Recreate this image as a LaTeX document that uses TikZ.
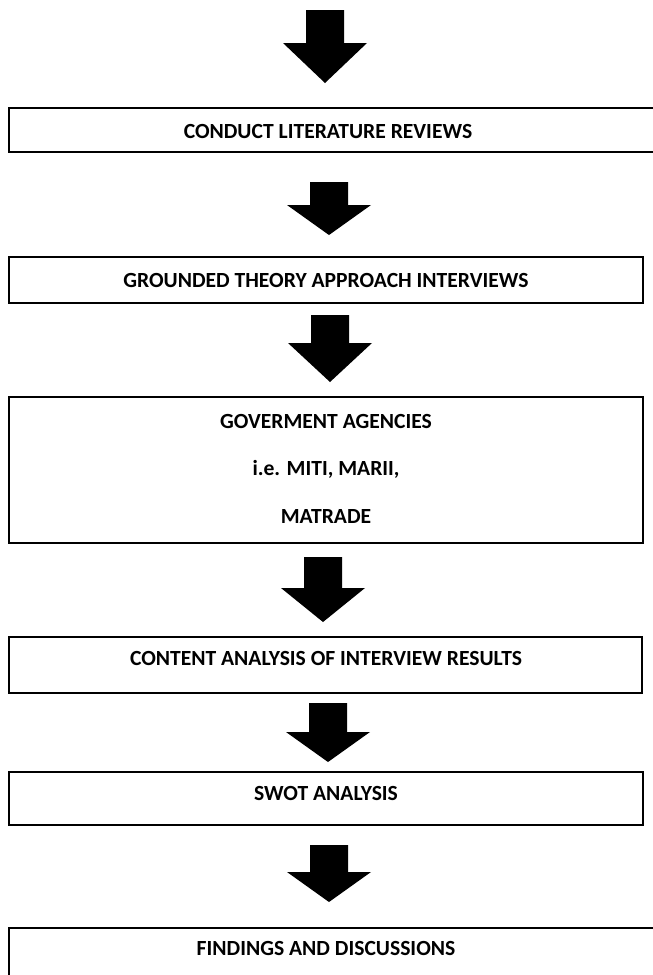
\documentclass[tikz,border=0pt]{standalone}
\usepackage{fontspec}
\setmainfont{Carlito}
\usetikzlibrary{positioning}

\newcommand{\stagefont}{\fontsize{21.6}{48}\selectfont\bfseries}
% block arrow: centre x, shaft top, head top, tip
\newcommand{\blockarrow}[4]{%
  \fill[black] (#1-19,#2) -- (#1+19,#2) -- (#1+19,#3) -- (#1+42,#3)
    -- (#1,#4) -- (#1-42,#3) -- (#1-19,#3) -- cycle;}

\tikzset{
  stagebox/.style={draw=black, line width=2.6pt, rectangle, inner sep=0pt},
  stagetext/.style={font=\stagefont, anchor=base, inner sep=0pt, align=center},
}

\begin{document}
\begin{tikzpicture}[x=1pt, y=-1pt]
  \fill[white] (0,0) rectangle (653,975);
  \useasboundingbox (0,0) rectangle (653,975);

  % boxes
  \node[stagebox, minimum width=653, minimum height=44] (box1) at (335.5,130) {};
  \node[stagebox, minimum width=634, minimum height=46] (box2) at (326,280) {};
  \node[stagebox, minimum width=634, minimum height=146] (box3) at (326,470) {};
  \node[stagebox, minimum width=633, minimum height=56] (box4) at (325.5,665) {};
  \node[stagebox, minimum width=634, minimum height=53] (box5) at (326,798.5) {};
  \node[stagebox, minimum width=653, minimum height=70] (box6) at (335.5,963) {};

  % labels
  \node[stagetext] (lit) at (328,138) {CONDUCT LITERATURE REVIEWS};
  \node[stagetext] (gta) at (326,287) {GROUNDED THEORY APPROACH INTERVIEWS};
  \node[stagetext] (gov) at (326,428) {GOVERMENT AGENCIES};
  \node[stagetext] (miti) at (326,475) {i.e. MITI, MARII,};
  \node[stagetext] (matrade) at (326,523) {MATRADE};
  \node[stagetext] (content) at (326,665) {CONTENT ANALYSIS OF INTERVIEW RESULTS};
  \node[stagetext] (swot) at (326,800) {SWOT ANALYSIS};
  \node[stagetext] (find) at (326,955) {FINDINGS AND DISCUSSIONS};

  % arrows
  \blockarrow{325}{10}{43}{83}
  \blockarrow{329}{182}{205}{235}
  \blockarrow{330}{315}{343}{382}
  \blockarrow{323}{557}{588}{622}
  \blockarrow{328}{703}{732}{762}
  \blockarrow{329}{845}{872}{902}
\end{tikzpicture}
\end{document}
